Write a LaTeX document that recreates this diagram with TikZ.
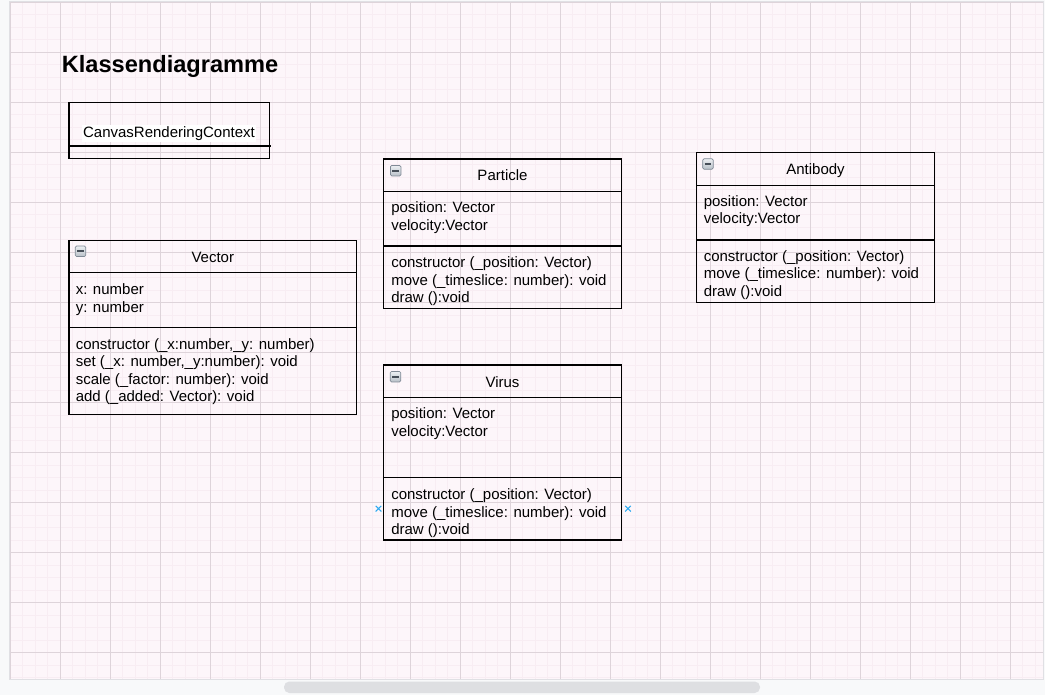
\documentclass[tikz,border=0pt]{standalone}
\usepackage{fontspec}
\setmainfont{Liberation Sans}
\usetikzlibrary{shapes.misc}

\definecolor{pagegray}{RGB}{248,249,250}
\definecolor{canvasbg}{RGB}{253,246,250}
\definecolor{canvasedge}{RGB}{224,224,228}
\definecolor{minorgrid}{RGB}{248,237,243}
\definecolor{majorgrid}{RGB}{222,212,218}
\definecolor{thumbgray}{RGB}{222,223,226}
\definecolor{iconedge}{RGB}{128,138,150}
\definecolor{icontop}{RGB}{236,239,242}
\definecolor{iconbottom}{RGB}{184,192,200}
\definecolor{icondark}{RGB}{70,78,88}
\definecolor{jointblue}{RGB}{45,170,240}

\tikzset{
  classline/.style={draw=black, line width=1pt},
  member/.style={anchor=base west, inner sep=0pt, font=\fontsize{11.25}{13.5}\selectfont},
  classname/.style={anchor=base, inner sep=0pt, font=\fontsize{11.25}{13.5}\selectfont},
  minusicon/.style={draw=iconedge, line width=0.5pt, rounded corners=1pt, top color=icontop, bottom color=iconbottom, minimum size=7.9pt, inner sep=0pt},
  joint/.style={cross out, draw=jointblue, line width=0.8pt, minimum size=3.4pt, inner sep=0pt}
}

\begin{document}
\begin{tikzpicture}[x=0.75pt,y=0.75pt,yscale=-1,xscale=1]
\useasboundingbox (0,0) rectangle (1045,695);

%Page and canvas
\fill [pagegray] (0,0) rectangle (1045,695);
\draw [canvasedge, fill=canvasbg, line width=0.75pt] (9,2) rectangle (1043,679);
\foreach \gx in {10,22.5,...,1041} \draw [minorgrid, line width=0.75pt] (\gx,2.5) -- (\gx,678.5);
\foreach \gy in {2.5,15,...,678} \draw [minorgrid, line width=0.75pt] (9.5,\gy) -- (1042.5,\gy);
\foreach \gx in {10,60,...,1010} \draw [majorgrid, line width=0.75pt] (\gx,2.5) -- (\gx,678.5);
\foreach \gy in {2.5,52.5,...,652.5} \draw [majorgrid, line width=0.75pt] (9.5,\gy) -- (1042.5,\gy);
%Scroll bar
\fill [thumbgray, rounded corners=4pt] (284,681.5) rectangle (760,693);

% Text Node
\draw (61.6,73) node [anchor=base west][inner sep=0pt] [font=\bfseries\fontsize{17.7}{21}\selectfont] (heading) {Klassendiagramme};

%Shape: CanvasRenderingContext
\draw [classline] (69,102.3) rectangle (269.3,158.5);
\draw [classline] (69,146) -- (270.7,146);
% Text Node
\draw (169,137.2) node [classname] [fill=white, inner sep=1pt] (crc-title) {CanvasRenderingContext};

%Shape: Vector
\draw [classline] (69,240.3) rectangle (356.7,414.3);
\draw [classline] (69,272.7) -- (356.7,272.7);
\draw [classline] (69,327.7) -- (356.7,327.7);
\draw (80.5,251.3) node [minusicon] (vector-icon) {\color{icondark}\rule{4.9pt}{1.5pt}};
% Text Node
\draw (212.8,262.5) node [classname] (vector-title) {Vector};
\draw (75.5,294.8) node [member] (vector-a1) {x: number};
\draw (75.5,312.2) node [member] (vector-a2) {y: number};
\draw (75.5,349.5) node [member] (vector-m1) {constructor (\_x:number,\_y: number)};
\draw (75.5,366.9) node [member] (vector-m2) {set (\_x: number,\_y:number): void};
\draw (75.5,384.3) node [member] (vector-m3) {scale (\_factor: number): void};
\draw (75.5,401.7) node [member] (vector-m4) {add (\_added: Vector): void};

%Shape: Particle
\draw [classline] (383.5,159) rectangle (621.5,308.5);
\draw [classline] (383.5,191.7) -- (621.5,191.7);
\draw [classline] (383.5,246) -- (621.5,246);
\draw (395.7,170.7) node [minusicon] (particle-icon) {\color{icondark}\rule{4.9pt}{1.5pt}};
% Text Node
\draw (502.5,181) node [classname] (particle-title) {Particle};
\draw (391,212.8) node [member] (particle-a1) {position: Vector};
\draw (391,230.3) node [member] (particle-a2) {velocity:Vector};
\draw (391,267.8) node [member] (particle-m1) {constructor (\_position: Vector)};
\draw (391,285.3) node [member] (particle-m2) {move (\_timeslice: number): void};
\draw (391,302.8) node [member] (particle-m3) {draw ():void};

%Shape: Antibody
\draw [classline] (696.7,152.5) rectangle (934.3,302.3);
\draw [classline] (696.7,185.2) -- (934.3,185.2);
\draw [classline] (696.7,240) -- (934.3,240);
\draw (708,164) node [minusicon] (antibody-icon) {\color{icondark}\rule{4.9pt}{1.5pt}};
% Text Node
\draw (815.5,174.3) node [classname] (antibody-title) {Antibody};
\draw (703.5,206.1) node [member] (antibody-a1) {position: Vector};
\draw (703.5,223.6) node [member] (antibody-a2) {velocity:Vector};
\draw (703.5,261.1) node [member] (antibody-m1) {constructor (\_position: Vector)};
\draw (703.5,278.6) node [member] (antibody-m2) {move (\_timeslice: number): void};
\draw (703.5,296.1) node [member] (antibody-m3) {draw ():void};

%Shape: Virus
\draw [classline] (383.5,365) rectangle (621.5,540);
\draw [classline] (383.5,397.7) -- (621.5,397.7);
\draw [classline] (383.5,477.7) -- (621.5,477.7);
\draw (395.5,376.7) node [minusicon] (virus-icon) {\color{icondark}\rule{4.9pt}{1.5pt}};
% Text Node
\draw (502.5,387) node [classname] (virus-title) {Virus};
\draw (391,418.8) node [member] (virus-a1) {position: Vector};
\draw (391,436.3) node [member] (virus-a2) {velocity:Vector};
\draw (391,499.5) node [member] (virus-m1) {constructor (\_position: Vector)};
\draw (391,517) node [member] (virus-m2) {move (\_timeslice: number): void};
\draw (391,534.5) node [member] (virus-m3) {draw ():void};
%Connection points
\draw (378.5,508.7) node [joint] (virus-west) {};
\draw (628,508.7) node [joint] (virus-east) {};
\end{tikzpicture}
\end{document}
